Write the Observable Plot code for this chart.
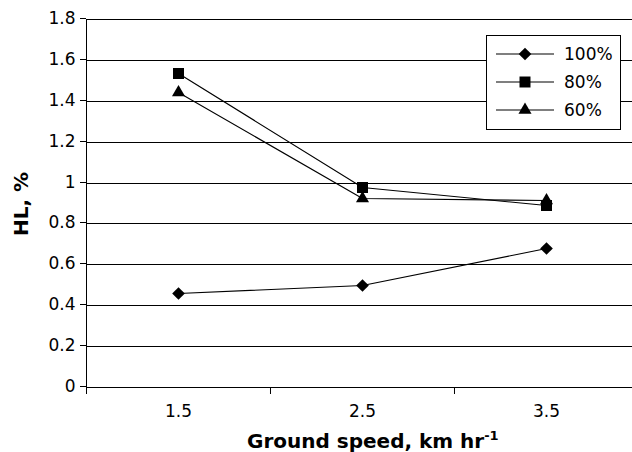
<!DOCTYPE html>
<html>
<head>
<meta charset="utf-8">
<script src="https://cdn.jsdelivr.net/npm/d3@7"></script>
<script src="https://cdn.jsdelivr.net/npm/@observablehq/plot@0.6"></script>
<style>
  html, body { margin: 0; padding: 0; background: #fff; }
  #chart svg { display: block; }
</style>
</head>
<body>
<div id="chart"></div>
<script>
// ---- data ----
const speeds = [1.5, 2.5, 3.5];
const xTickLabels = ["1.5", "2.5", "3.5"];
const seriesNames = ["100%", "80%", "60%"];
const hl100 = [0.46, 0.50, 0.68];
const hl80 = [1.535, 0.98, 0.89];
const hl60 = [1.445, 0.925, 0.915];
const yTicks = [0, 0.2, 0.4, 0.6, 0.8, 1.0, 1.2, 1.4, 1.6, 1.8];
const categoryEdges = [1, 2, 3];
const xTitle = "Ground speed, km hr";
const xTitleSup = "-1";
const yTitle = "HL, %";

const seriesValues = [hl100, hl80, hl60];
const symbols = ["diamond2", "square", "triangle"];
const radii = [5.7, 6.2, 4.85];

const data = [];
seriesNames.forEach((s, k) => speeds.forEach((x, i) => data.push({series: s, speed: x, hl: seriesValues[k][i]})));

const font = "DejaVu Sans";

const chart = Plot.plot({
  width: 632,
  height: 452,
  marginLeft: 86,
  marginRight: 0,
  marginTop: 19,
  marginBottom: 65,
  style: {fontFamily: font, fontSize: "17px", color: "#000", background: "#fff"},
  x: {type: "linear", domain: [1, 3.9674]},
  y: {domain: [0, 1.8], round: true},
  marks: [
    Plot.ruleY(yTicks, {stroke: "#000", strokeWidth: 1}),
    Plot.ruleX([1], {stroke: "#000", strokeWidth: 1}),
    Plot.axisY({ticks: yTicks, tickSize: 6, tickPadding: 5, label: null,
      tickFormat: d => String(Math.round(d * 10) / 10), dy: -1}),
    Plot.axisX({ticks: categoryEdges, tickSize: 7, tickFormat: () => "", label: null}),
    Plot.axisX({ticks: speeds, tickSize: 0, tickPadding: 17, label: null,
      tickFormat: (d) => xTickLabels[speeds.indexOf(d)]}),
    Plot.line(data, {x: "speed", y: "hl", z: "series", stroke: "#000", strokeWidth: 1.1}),
    ...seriesNames.map((s, k) =>
      Plot.dot(data.filter(d => d.series === s), {x: "speed", y: "hl", symbol: () => symbols[k], fill: "#000", r: radii[k]})
    )
  ],
  symbol: {type: "identity"}
});

document.getElementById("chart").appendChild(chart);

// ---- titles and legend ----
const svg = d3.select(chart);

const xt = svg.append("text")
  .attr("x", 247).attr("y", 448)
  .attr("text-anchor", "start")
  .attr("font-family", font).attr("font-weight", "bold").attr("font-size", 20)
  .attr("fill", "#000");
xt.append("tspan").text(xTitle);
xt.append("tspan").text(xTitleSup).attr("font-size", 13).attr("dy", -8);

svg.append("text")
  .attr("transform", "translate(28,204) rotate(-90)")
  .attr("text-anchor", "middle")
  .attr("font-family", font).attr("font-weight", "bold").attr("font-size", 20)
  .attr("fill", "#000")
  .text(yTitle);

const lg = svg.append("g");
lg.append("rect").attr("x", 486.5).attr("y", 35.5).attr("width", 134).attr("height", 94)
  .attr("fill", "#fff").attr("stroke", "#000").attr("stroke-width", 1);
const rowY = [54, 82, 110];
seriesNames.forEach((s, k) => {
  const y = rowY[k];
  lg.append("line").attr("x1", 496).attr("x2", 554).attr("y1", y).attr("y2", y)
    .attr("stroke", "#000").attr("stroke-width", 1.1);
  const sym = {diamond2: d3.symbolDiamond2, square: d3.symbolSquare, triangle: d3.symbolTriangle}[symbols[k]];
  lg.append("path").attr("d", d3.symbol(sym, radii[k] * radii[k] * Math.PI)())
    .attr("transform", `translate(525,${y})`).attr("fill", "#000");
  lg.append("text").attr("x", 564).attr("y", y).attr("dy", "0.36em")
    .attr("text-anchor", "start")
    .attr("font-family", font).attr("font-size", 17).attr("fill", "#000").text(s);
});
</script>
</body>
</html>
